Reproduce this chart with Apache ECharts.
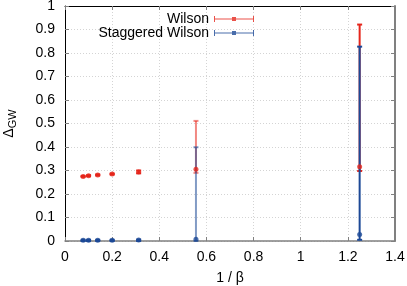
<!DOCTYPE html>
<html>
<head>
<meta charset="utf-8">
<script src="https://cdn.jsdelivr.net/npm/echarts@6/dist/echarts.min.js"></script>
<style>
html,body{margin:0;padding:0;background:#fff;}
#c{width:407px;height:286px;}
</style>
</head>
<body>
<div id="c"></div>
<script>
// ---- data ----
const invBeta     = [0.0769, 0.1, 0.1389, 0.2, 0.3125, 0.5556, 1.25];
const wilson      = [0.275, 0.278, 0.281, 0.285, 0.294, 0.305, 0.316];
const wilsonLow   = [0.273, 0.276, 0.279, 0.283, 0.288, 0.290, 0.298];
const wilsonHigh  = [0.277, 0.280, 0.283, 0.287, 0.300, 0.511, 0.921];
const stag        = [0.003, 0.003, 0.003, 0.003, 0.004, 0.007, 0.028];
const stagLow     = [0.000, 0.000, 0.000, 0.000, 0.000, 0.000, 0.005];
const stagHigh    = [0.005, 0.005, 0.005, 0.005, 0.006, 0.399, 0.827];
const xTicks = [0, 0.2, 0.4, 0.6, 0.8, 1, 1.2, 1.4];
const yTicks = [0, 0.1, 0.2, 0.3, 0.4, 0.5, 0.6, 0.7, 0.8, 0.9, 1];

// ---- style ----
const RED = '#e5261c';
const BLUE = '#1c4896';
const FONT = '"Liberation Sans", Arial, sans-serif';
const FS = 14;
const fadedIndex = [5];

function errSeries(name, lows, highs, color, z) {
  return {
    type: 'custom',
    name: name,
    z: z,
    silent: true,
    data: invBeta.map((x, i) => [x, lows[i], highs[i], i]),
    encode: { x: 0, y: [1, 2] },
    renderItem: function (params, api) {
      const x = api.value(0);
      const lo = api.coord([x, api.value(1)]);
      const hi = api.coord([x, api.value(2)]);
      const idx = api.value(3);
      const op = fadedIndex.indexOf(idx) >= 0 ? 0.55 : 1;
      const cap = 2.5;
      const st = { stroke: color, lineWidth: 2, opacity: op };
      return {
        type: 'group',
        children: [
          { type: 'line', shape: { x1: lo[0], y1: lo[1], x2: hi[0], y2: hi[1] }, style: st },
          { type: 'line', shape: { x1: lo[0] - cap, y1: lo[1], x2: lo[0] + cap, y2: lo[1] }, style: st },
          { type: 'line', shape: { x1: hi[0] - cap, y1: hi[1], x2: hi[0] + cap, y2: hi[1] }, style: st }
        ]
      };
    }
  };
}

const legendIcon = 'path://M0 3.5H40V4.5H0Z M0 1H1V7H0Z M39 1H40V7H39Z M18 2H22V6H18Z';

const chart = echarts.init(document.getElementById('c'), null, { renderer: 'canvas' });
chart.setOption({
  animation: false,
  textStyle: { fontFamily: FONT },
  grid: { left: 65, right: 12, top: 6, bottom: 45, show: false, containLabel: false, outerBoundsMode: 'none' },
  legend: {
    data: ['Wilson', 'Staggered Wilson'],
    orient: 'vertical',
    align: 'right',
    right: 148,
    top: 7,
    itemWidth: 40,
    itemHeight: 8,
    itemGap: 0,
    icon: legendIcon,
    textStyle: { fontSize: FS, color: '#000', fontFamily: FONT },
    selectedMode: false
  },
  xAxis: [{
    type: 'value', min: 0, max: 1.4, interval: 0.2,
    name: '1 / β', nameLocation: 'middle', nameGap: 30,
    nameTextStyle: { fontSize: FS, color: '#000', fontFamily: FONT },
    axisLine: { onZero: false, lineStyle: { color: '#808080', width: 1.5 } },
    axisTick: { inside: true, length: 4, lineStyle: { color: '#808080' } },
    axisLabel: { fontSize: FS, color: '#000', margin: 9, fontFamily: FONT,
      formatter: v => { const t = xTicks.find(k => Math.abs(k - v) < 1e-6); return t === undefined ? '' : String(t); } },
    splitLine: { show: true, lineStyle: { color: '#d4d4d4', type: [1, 2], width: 1 } }
  }, {
    type: 'value', min: 0, max: 1.4, interval: 0.2, position: 'top',
    axisLine: { onZero: false, lineStyle: { color: '#000', width: 1 } },
    axisTick: { inside: true, length: 4, lineStyle: { color: '#808080' } },
    axisLabel: { show: false }, splitLine: { show: false }
  }],
  yAxis: [{
    type: 'value', min: 0, max: 1, interval: 0.1,
    name: '{a|Δ}{b|GW}', nameLocation: 'middle', nameGap: 47, nameRotate: 90,
    nameTextStyle: {
      color: '#000', fontFamily: FONT,
      rich: {
        a: { fontSize: FS, color: '#000', fontFamily: FONT },
        b: { fontSize: 11, color: '#000', fontFamily: FONT, padding: [7, 0, 0, 0] }
      }
    },
    axisLine: { onZero: false, lineStyle: { color: '#000', width: 1 } },
    axisTick: { inside: true, length: 4, lineStyle: { color: '#808080' } },
    axisLabel: { fontSize: FS, color: '#000', margin: 10, fontFamily: FONT,
      formatter: v => { const t = yTicks.find(k => Math.abs(k - v) < 1e-6); return t === undefined ? '' : String(t); } },
    splitLine: { show: true, lineStyle: { color: '#d4d4d4', type: [1, 2], width: 1 } }
  }, {
    type: 'value', min: 0, max: 1, interval: 0.1, position: 'right',
    axisLine: { onZero: false, lineStyle: { color: '#808080', width: 2 } },
    axisTick: { inside: true, length: 4, lineStyle: { color: '#808080' } },
    axisLabel: { show: false }, splitLine: { show: false }
  }],
  series: [
    errSeries('Wilson err', wilsonLow, wilsonHigh, RED, 2),
    errSeries('Staggered err', stagLow, stagHigh, BLUE, 3),
    {
      name: 'Wilson', type: 'scatter', z: 4,
      symbol: 'circle', symbolSize: 5,
      itemStyle: { color: RED },
      data: invBeta.map((x, i) => [x, wilson[i]])
    },
    {
      name: 'Staggered Wilson', type: 'scatter', z: 5,
      symbol: 'circle', symbolSize: 5,
      itemStyle: { color: BLUE },
      data: invBeta.map((x, i) => [x, stag[i]])
    }
  ]
});
</script>
</body>
</html>
